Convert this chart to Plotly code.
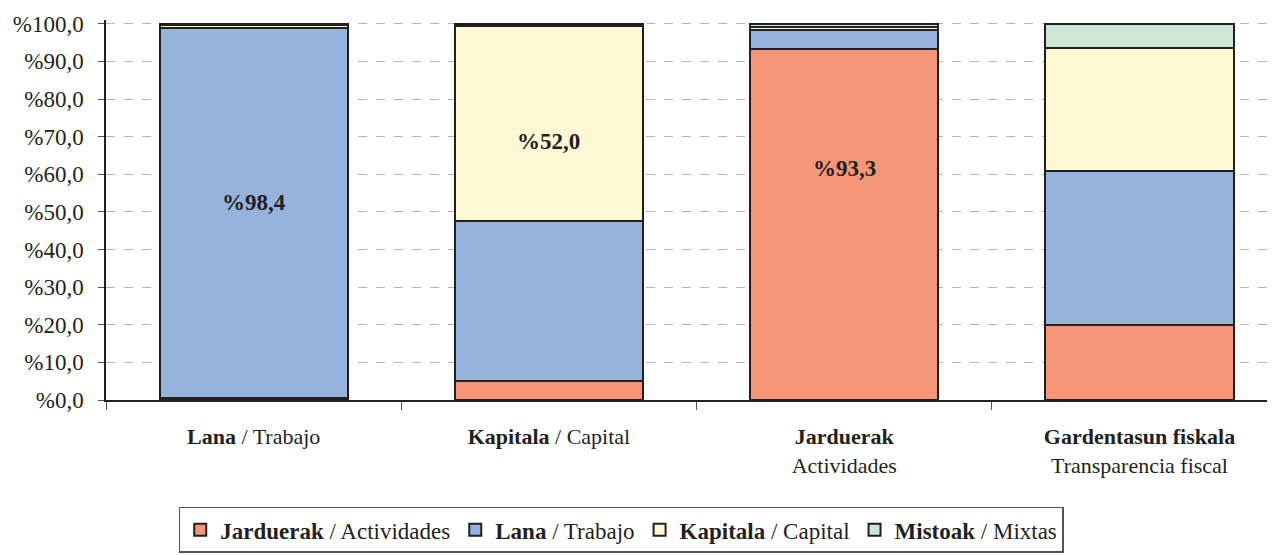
import plotly.graph_objects as go

categories = ["<b>Lana</b> / Trabajo", "<b>Kapitala</b> / Capital",
              "<b>Jarduerak</b><br>Actividades",
              "<b>Gardentasun fiskala</b><br>Transparencia fiscal"]
jarduerak = [0.5, 5.0, 93.3, 20.0]
lana = [98.4, 42.6, 5.1, 40.9]
kapitala = [0.8, 51.9, 0.8, 32.7]
mistoak = [0.3, 0.5, 0.8, 6.4]

series_names = ["<b>Jarduerak</b> / Actividades", "<b>Lana</b> / Trabajo",
                "<b>Kapitala</b> / Capital", "<b>Mistoak</b> / Mixtas"]
series_values = [jarduerak, lana, kapitala, mistoak]
colors = ["#f59679", "#95b3dc", "#fef8d4", "#cde6d5"]

label_texts = ["%98,4", "%52,0", "%93,3"]
label_y = [52.4, 68.6, 61.4]

tick_vals = [0, 10, 20, 30, 40, 50, 60, 70, 80, 90, 100]
tick_text = ["%0,0", "%10,0", "%20,0", "%30,0", "%40,0", "%50,0",
             "%60,0", "%70,0", "%80,0", "%90,0", "%100,0"]

SERIF = "Liberation Serif, Times New Roman, serif"
INK = "#231f20"

fig = go.Figure()
for name, vals, col in zip(series_names, series_values, colors):
    fig.add_trace(go.Bar(
        x=categories, y=vals, name=name,
        marker=dict(color=col, line=dict(color=INK, width=2)),
        width=0.637,
    ))

for i, (t, yv) in enumerate(zip(label_texts, label_y)):
    fig.add_annotation(x=categories[i], y=yv, text="<b>" + t + "</b>",
                       showarrow=False,
                       font=dict(family=SERIF, size=23, color=INK))

fig.update_layout(
    barmode="stack",
    width=1267, height=547,
    margin=dict(l=98, r=0, t=12, b=155, autoexpand=False),
    plot_bgcolor="white", paper_bgcolor="white",
    font=dict(family=SERIF, size=22, color=INK),
    legend=dict(
        orientation="h", xref="container", yref="container",
        x=0.484, xanchor="center", y=0.088, yanchor="top",
        bordercolor="#555555", borderwidth=1.5,
        font=dict(family=SERIF, size=23, color=INK),
        traceorder="normal",
    ),
    xaxis=dict(
        range=[-0.5, 3.459], showline=True, linecolor=INK, linewidth=1.5,
        ticks="outside", tickson="boundaries", ticklen=8, tickcolor="#555555",
        tickfont=dict(family=SERIF, size=22, color=INK),
        ticklabelstandoff=16,
        showgrid=False, fixedrange=True, automargin=False,
    ),
    yaxis=dict(
        range=[0, 101], tickvals=tick_vals, ticktext=tick_text,
        showline=True, linecolor=INK, linewidth=1.5,
        ticks="outside", ticklen=6, tickcolor="#555555",
        ticklabelstandoff=10,
        showgrid=True, gridcolor="#b5b5b5", griddash="dash", gridwidth=1,
        zeroline=False, automargin=False,
        tickfont=dict(family=SERIF, size=23, color=INK),
    ),
)

fig.write_html("out.html")
